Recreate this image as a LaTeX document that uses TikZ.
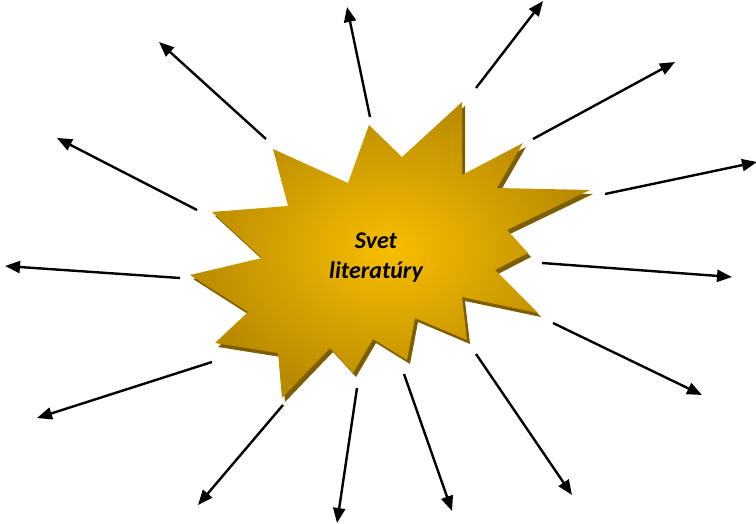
\documentclass[tikz,border=0pt]{standalone}
\usepackage{fontspec}
\setmainfont{Carlito}
\usetikzlibrary{arrows.meta}
\definecolor{goldin}{HTML}{F8BE00}
\definecolor{goldout}{HTML}{B98A00}
\definecolor{goldshadow}{HTML}{7C5E00}
\tikzset{
  ray/.style={line width=2.4pt,-{Triangle[length=15pt,width=12pt]}},
  label/.style={font=\fontsize{24}{30}\selectfont\bfseries\itshape,align=center,text=black}
}
\begin{document}
\begin{tikzpicture}[x=1pt,y=-1pt]
\useasboundingbox (0,0) rectangle (756,524);
\def\starpath{(369,125) -- (402,157) -- (462,102) -- (462,175) -- (523,143) -- (497,188) -- (590,190) -- (507,230) -- (528,253) -- (495,270) -- (538,313) -- (462,297) -- (467,340) -- (415,318) -- (407,360) -- (373,339) -- (353,373) -- (330,348) -- (282,398) -- (278,353) -- (215,343) -- (248,312) -- (190,275) -- (262,258) -- (212,212) -- (288,206) -- (273,149) -- (348,183) -- cycle}
% shadow
\begin{scope}[shift={(3,4)}]
\fill[goldshadow] \starpath;
\end{scope}
% star
\shade[inner color=goldin, outer color=goldout] \starpath;
\node[label] (title) at (376,258) {Svet\\literatúry};
% ray coordinates
\coordinate (s1) at (370,117);  \coordinate (t1) at (347,7);
\coordinate (s2) at (476,88);   \coordinate (t2) at (543,1);
\coordinate (s3) at (533,139);  \coordinate (t3) at (675,62);
\coordinate (s4) at (605,194);  \coordinate (t4) at (757,162);
\coordinate (s5) at (542,263);  \coordinate (t5) at (732,277);
\coordinate (s6) at (553,323);  \coordinate (t6) at (702,395);
\coordinate (s7) at (476,354);  \coordinate (t7) at (572,495);
\coordinate (s8) at (404,374);  \coordinate (t8) at (452,511);
\coordinate (s9) at (357,388);  \coordinate (t9) at (337,523);
\coordinate (s10) at (283,405); \coordinate (t10) at (198,505);
\coordinate (s11) at (212,362); \coordinate (t11) at (37,418);
\coordinate (s12) at (180,278); \coordinate (t12) at (5,266);
\coordinate (s13) at (197,210); \coordinate (t13) at (57,138);
\coordinate (s14) at (266,139); \coordinate (t14) at (159,42);
\foreach \i in {1,...,14} {\draw[ray] (s\i) -- (t\i);}
\end{tikzpicture}
\end{document}
